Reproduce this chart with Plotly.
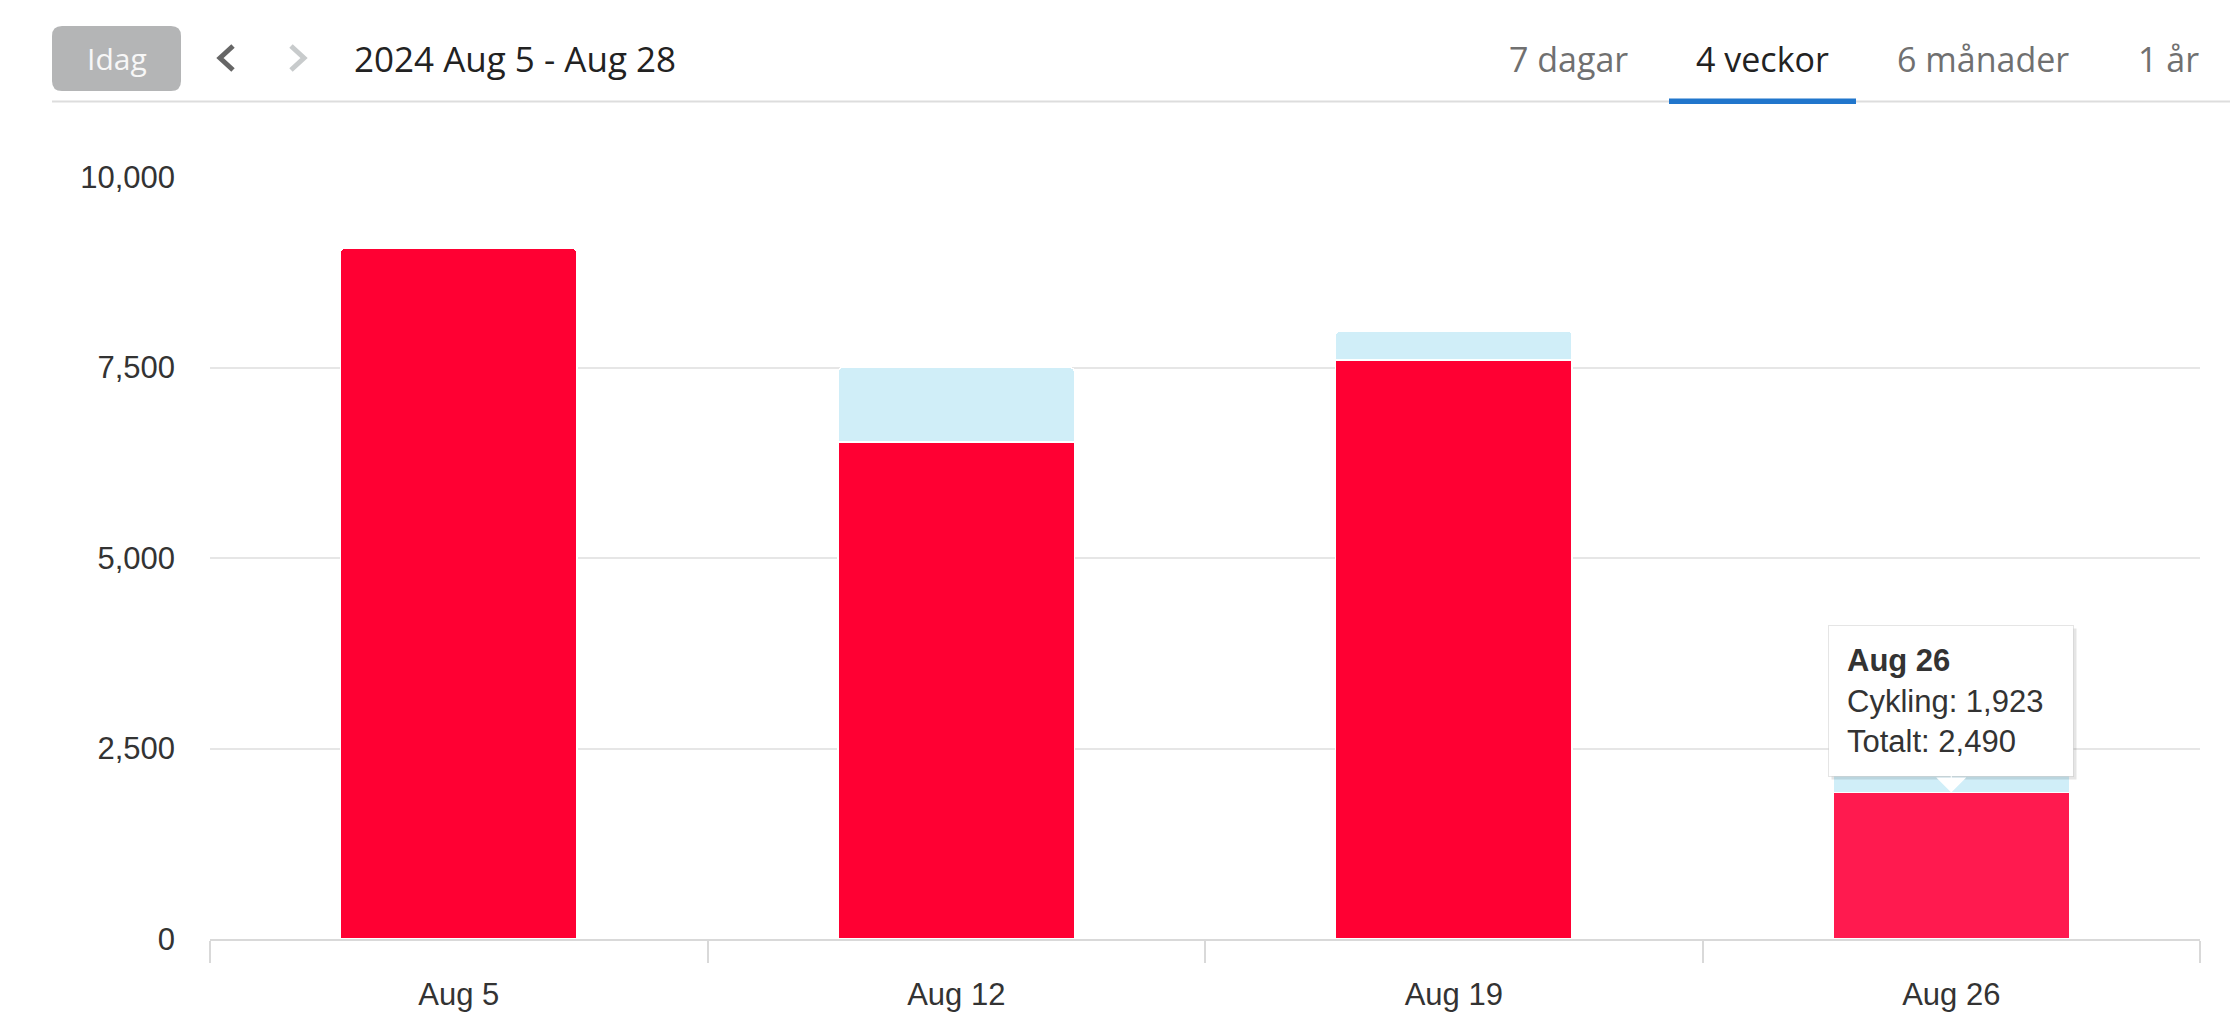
import plotly.graph_objects as go

# veckor och värden
veckor = ['Aug 5', 'Aug 12', 'Aug 19', 'Aug 26']
cykling = [9065, 6525, 7600, 1923]
ovrigt = [None, 975, 380, 567]
y_ticks = [0, 2500, 5000, 7500, 10000]

datum_text = '2024 Aug 5 - Aug 28'
flikar = ['7 dagar', '4 veckor', '6 månader', '1 år']
aktiv_flik = '4 veckor'
vald_vecka = 3

totalt = [c + (o or 0) for c, o in zip(cykling, ovrigt)]

W, H = 2230, 1031
ML, MR, MT, MB = 210, 30, 177, 92
PW, PH = W - ML - MR, H - MT - MB


# pixel -> paper
def X(px):
    return (px - ML) / PW


def Y(py):
    return (H - MB - py) / PH


def rundad_rekt(x0, y0, x1, y1, r):
    return (f"M {X(x0 + r)},{Y(y0)} L {X(x1 - r)},{Y(y0)} Q {X(x1)},{Y(y0)} {X(x1)},{Y(y0 + r)} "
            f"L {X(x1)},{Y(y1 - r)} Q {X(x1)},{Y(y1)} {X(x1 - r)},{Y(y1)} "
            f"L {X(x0 + r)},{Y(y1)} Q {X(x0)},{Y(y1)} {X(x0)},{Y(y1 - r)} "
            f"L {X(x0)},{Y(y0 + r)} Q {X(x0)},{Y(y0)} {X(x0 + r)},{Y(y0)} Z")


rod = ['#ff0033'] * len(veckor)
rod[vald_vecka] = '#ff1a4f'

fig = go.Figure()
fig.add_trace(go.Bar(x=veckor, y=cykling, name='Cykling',
                     marker=dict(color=rod, line=dict(color='white', width=1.5)),
                     hoverinfo='skip'))
fig.add_trace(go.Bar(x=veckor, y=ovrigt, name='Övrigt',
                     marker=dict(color='#d0eef8', line=dict(color='white', width=1.5)),
                     hoverinfo='skip'))

shapes = []
# knapp "Idag"
shapes.append(dict(type='path', xref='paper', yref='paper', path=rundad_rekt(52, 26, 181, 91, 10),
                   fillcolor='#b4b5b6', line=dict(width=0), layer='above'))
# pilar
shapes.append(dict(type='path', xref='paper', yref='paper',
                   path=f"M {X(233)},{Y(46)} L {X(220)},{Y(58)} L {X(233)},{Y(70)}",
                   line=dict(color='#666666', width=5)))
shapes.append(dict(type='path', xref='paper', yref='paper',
                   path=f"M {X(291)},{Y(46)} L {X(304)},{Y(58)} L {X(291)},{Y(70)}",
                   line=dict(color='#c8cbcc', width=5)))
# linje under rubriken
shapes.append(dict(type='line', xref='paper', yref='paper', x0=X(52), x1=X(W), y0=Y(101.5), y1=Y(101.5),
                   line=dict(color='#dddddd', width=2)))
# blå markering under aktiv flik
shapes.append(dict(type='rect', xref='paper', yref='paper', x0=X(1669), x1=X(1856), y0=Y(98.5), y1=Y(104),
                   fillcolor='#2176cc', line=dict(width=0)))

annotations = []
annotations.append(dict(xref='paper', yref='paper', x=X(117), y=Y(59), text='Idag', showarrow=False,
                        xanchor='center', yanchor='middle',
                        font=dict(family='Open Sans', size=30, color='#f7f7f7')))
annotations.append(dict(xref='paper', yref='paper', x=X(352), y=Y(59), text=datum_text, showarrow=False,
                        xanchor='left', yanchor='middle',
                        font=dict(family='Open Sans', size=35, color='#222222')))
flik_x = [1568, 1762, 1983, 2168]
for namn, fx in zip(flikar, flik_x):
    annotations.append(dict(xref='paper', yref='paper', x=X(fx), y=Y(59), text=namn, showarrow=False,
                            xanchor='center', yanchor='middle',
                            font=dict(family='Open Sans', size=34,
                                      color='#222222' if namn == aktiv_flik else '#707070')))

# tooltip
tip_text = (f"<b>{veckor[vald_vecka]}</b><br>Cykling: {cykling[vald_vecka]:,}"
            f"<br>Totalt: {totalt[vald_vecka]:,}")
tip = dict(x=veckor[vald_vecka], y=cykling[vald_vecka], xref='x', yref='y', text=tip_text,
           showarrow=False, xanchor='center', yanchor='bottom', align='left', valign='middle',
           width=208, height=114, borderpad=18, borderwidth=1)
annotations.append(dict(tip, xshift=3, yshift=12, bgcolor='rgba(0,0,0,0.10)', bordercolor='rgba(0,0,0,0)',
                        font=dict(family='Arial', size=31, color='rgba(0,0,0,0)')))
annotations.append(dict(tip, yshift=15, bgcolor='white', bordercolor='rgba(0,0,0,0.10)',
                        font=dict(family='Arial', size=31, color='#333333')))
annotations.append(dict(x=veckor[vald_vecka], y=cykling[vald_vecka], xref='x', yref='y', text='',
                        showarrow=True, ax=0, ay=-18, arrowhead=1, arrowsize=5, arrowwidth=1,
                        arrowcolor='white', standoff=0))

fig.update_layout(
    width=W, height=H,
    margin=dict(l=ML, r=MR, t=MT, b=MB),
    barmode='stack', bargap=0.524, barcornerradius=5,
    plot_bgcolor='white', paper_bgcolor='white',
    showlegend=False,
    font=dict(family='Arial', size=31, color='#333333'),
    shapes=shapes, annotations=annotations,
    xaxis=dict(type='category', categoryorder='array', categoryarray=veckor,
               showgrid=False, showline=True, linecolor='#d9d9d9', linewidth=2,
               ticks='outside', ticklen=22, tickwidth=2, tickcolor='#d9d9d9', tickson='boundaries',
               ticklabelstandoff=27, tickfont=dict(family='Arial', size=31, color='#333333')),
    yaxis=dict(range=[0, 10000], tickvals=y_ticks, tickformat=',', showgrid=True,
               gridcolor='#e6e6e6', gridwidth=2, zeroline=False, showline=False,
               ticks='', ticklabelstandoff=34, tickfont=dict(family='Arial', size=31, color='#333333')),
)

fig.write_html("out.html", config={'displayModeBar': False},
               post_script="document.body.style.margin='0';")
